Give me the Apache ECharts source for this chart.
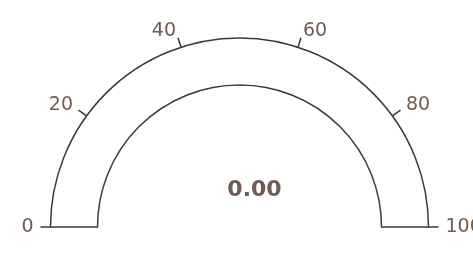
<!DOCTYPE html>
<html>
<head>
<meta charset="utf-8">
<script src="https://cdn.jsdelivr.net/npm/echarts@6/dist/echarts.min.js"></script>
<style>
  html, body { margin: 0; padding: 0; background: #fff; }
  #chart { width: 473px; height: 255px; }
</style>
</head>
<body>
<div id="chart"></div>
<script>
// 刻度值 / 当前值
const tickValues = [0, 20, 40, 60, 80, 100];
const gaugeValue = [0];

const gaugeMin = tickValues[0];
const gaugeMax = tickValues[tickValues.length - 1];
const gaugeMid = (gaugeMin + gaugeMax) / 2;

const lineColor = '#3a3a3a';
const labelColor = '#6f5c53';
const fontFamily = '"DejaVu Sans", sans-serif';
const center = [239.5, 227];
const radius = 189;
const bandWidth = 47;
const tickLen = 10;

// 公共配置
function baseGauge() {
  return {
    type: 'gauge',
    center: center,
    radius: radius,
    min: gaugeMin,
    max: gaugeMax,
    startAngle: 180,
    endAngle: 0,
    splitNumber: tickValues.length - 1,
    axisLine: { show: true, lineStyle: { width: bandWidth, color: [[1, 'rgba(0,0,0,0)']] } },
    splitLine: { show: false, length: tickLen, distance: -bandWidth - tickLen },
    axisTick: { show: false },
    axisLabel: { show: false },
    pointer: { show: false },
    anchor: { show: false },
    title: { show: false },
    detail: { show: false },
    progress: { show: false },
    silent: true
  };
}

// 外框 (满值的 progress 当作轨道)
const track = baseGauge();
track.progress = {
  show: true,
  width: bandWidth,
  itemStyle: { color: '#fff', borderColor: lineColor, borderWidth: 1.5 }
};
track.data = [gaugeMax];

// 刻度线 + 标签 + 数值
const labelFont = { color: labelColor, fontSize: 19, fontFamily: fontFamily, lineHeight: 1 };
const main = baseGauge();
main.splitLine = {
  show: true, length: tickLen, distance: -bandWidth - tickLen,
  lineStyle: { color: lineColor, width: 1.5 }
};
// 标签放在外侧：左半边右对齐，右半边左对齐 (宽度设为 1，用 rich 控制对齐)
main.axisLabel = {
  show: true,
  distance: 29,
  width: 1,
  color: labelColor,
  fontSize: 19,
  fontFamily: fontFamily,
  formatter: function (v) {
    return (v < gaugeMid ? '{l|' : '{r|') + v + '}';
  },
  rich: {
    l: Object.assign({ align: 'right' }, labelFont),
    r: Object.assign({ align: 'left' }, labelFont)
  }
};
main.detail = {
  show: true,
  offsetCenter: [15, -37],
  fontSize: 22,
  fontWeight: 'bold',
  fontFamily: fontFamily,
  color: labelColor,
  formatter: function (v) { return v.toFixed(2); }
};
main.data = [gaugeValue[0]];

const myChart = echarts.init(document.getElementById('chart'));
myChart.setOption({
  animation: false,
  series: [track, main]
});
</script>
</body>
</html>
